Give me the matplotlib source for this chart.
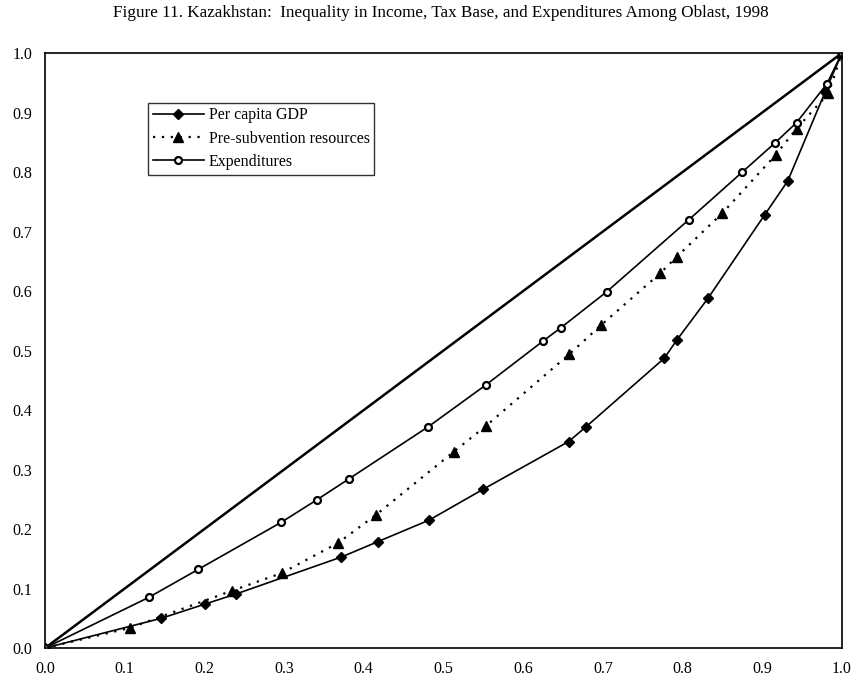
import numpy as np
import matplotlib
matplotlib.use("Agg")
import matplotlib.pyplot as plt

plt.rcParams['font.family'] = ['Liberation Serif', 'DejaVu Serif']

# cumulative population share (x) vs cumulative share (y)
gdp_x = [0.0, 0.146, 0.201, 0.240, 0.372, 0.418, 0.482, 0.550, 0.657, 0.679,
         0.777, 0.793, 0.832, 0.903, 0.932, 0.979, 1.0]
gdp_y = [0.0, 0.050, 0.074, 0.091, 0.153, 0.179, 0.215, 0.267, 0.347, 0.372,
         0.487, 0.518, 0.588, 0.728, 0.785, 0.935, 1.0]

pre_x = [0.0, 0.107, 0.234, 0.297, 0.367, 0.415, 0.513, 0.553, 0.658, 0.698,
         0.772, 0.793, 0.850, 0.917, 0.943, 0.983, 1.0]
pre_y = [0.0, 0.034, 0.096, 0.126, 0.176, 0.2235, 0.330, 0.373, 0.494, 0.543,
         0.630, 0.658, 0.731, 0.829, 0.873, 0.932, 1.0]

exp_x = [0.0, 0.130, 0.192, 0.296, 0.341, 0.381, 0.481, 0.553, 0.625, 0.647,
         0.705, 0.808, 0.875, 0.916, 0.943, 0.981, 1.0]
exp_y = [0.0, 0.085, 0.132, 0.211, 0.249, 0.284, 0.372, 0.442, 0.516, 0.538,
         0.599, 0.720, 0.800, 0.849, 0.883, 0.948, 1.0]

ticks = np.arange(0, 1.01, 0.1)

fig = plt.figure(figsize=(8.56, 6.78), dpi=100)
ax = fig.add_axes([0.0526, 0.0442, 0.9310, 0.8776])

ax.plot([0, 1], [0, 1], color='black', lw=1.8)
ax.plot(gdp_x, gdp_y, color='black', lw=1.2, marker='D', ms=5.5,
        label='Per capita GDP')
ax.plot(pre_x, pre_y, color='black', lw=1.6, ls=(0, (1, 3)), marker='^', ms=6.5,
        label='Pre-subvention resources')
ax.plot(exp_x, exp_y, color='black', lw=1.2, marker='o', ms=5,
        mfc='white', mec='black', mew=1.6, label='Expenditures')

ax.set_xlim(0, 1)
ax.set_ylim(0, 1)
ax.set_xticks(ticks)
ax.set_yticks(ticks)
ax.set_xticklabels([f'{t:.1f}' for t in ticks])
ax.set_yticklabels([f'{t:.1f}' for t in ticks])
ax.tick_params(length=0, labelsize=11.5, pad=9)
for s in ax.spines.values():
    s.set_linewidth(1.2)

leg = ax.legend(loc='upper left', bbox_to_anchor=(0.119, 0.93), fontsize=11.5,
                frameon=True, fancybox=False, edgecolor='black',
                handlelength=3.2, handletextpad=0.3, borderpad=0.3,
                labelspacing=0.45)
leg.get_frame().set_linewidth(1.0)

fig.text(0.515, 0.992, 'Figure 11. Kazakhstan:  Inequality in Income, Tax Base, and Expenditures Among Oblast, 1998',
         ha='center', va='top', fontsize=12.3)

fig.savefig('out.png', dpi=100)
